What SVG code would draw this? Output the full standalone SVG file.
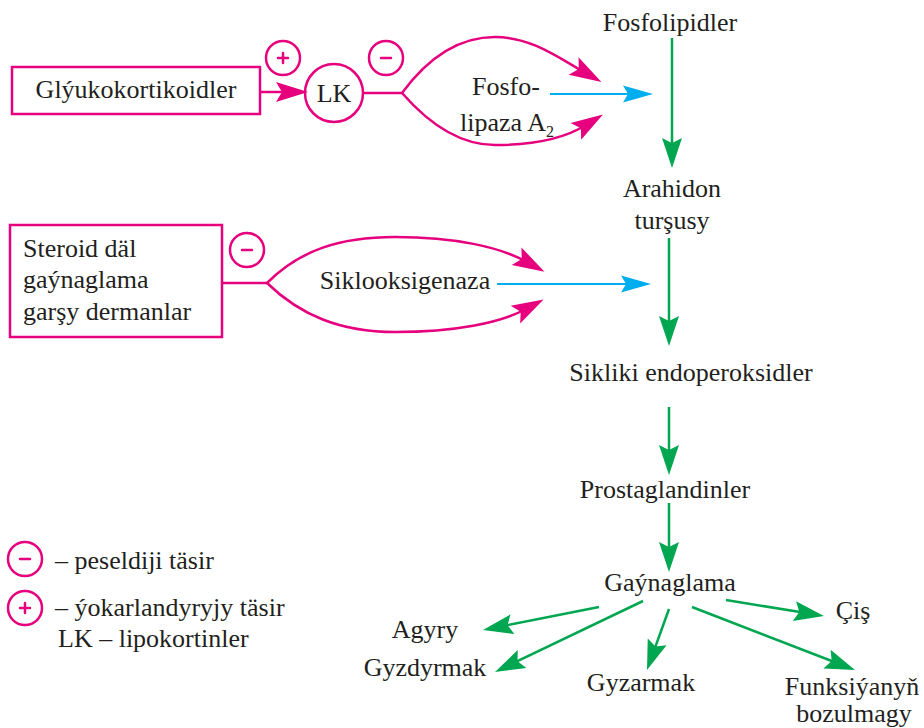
<svg xmlns="http://www.w3.org/2000/svg" xmlns:xlink="http://www.w3.org/1999/xlink" width="924" height="728" viewBox="0 0 924 728" font-family="'Liberation Serif', 'Times New Roman', serif">
<defs>
<path id="hP" d="M0,0 L-32,-10 L-26,0 L-32,10 Z" fill="#E6007E"/>
<path id="hG" d="M0,0 L-30,-10 L-25,0 L-30,10 Z" fill="#00A650"/>
<path id="hB" d="M0,0 L-30,-8.5 L-25,0 L-30,8.5 Z" fill="#00AEEF"/>
</defs>
<g id="glyukokortikoidler">
<rect x="12" y="67" width="248" height="47" fill="none" stroke="#E6007E" stroke-width="2.5"/>
<text font-family="Times New Roman, serif" font-size="26" fill="#231F20" text-anchor="middle" x="136" y="98">Glýukokortikoidler</text>
</g>
<g id="plus-sign" fill="none" stroke="#E6007E" stroke-width="2.5" stroke-linecap="round"><circle cx="283" cy="58" r="17"/><path d="M278,58 H288 M283,53 V63"/></g>
<g id="lk"><circle cx="334" cy="93" r="29" fill="none" stroke="#E6007E" stroke-width="2.5"/><text font-family="Times New Roman, serif" font-size="26" fill="#231F20" text-anchor="middle" x="334" y="102">LK</text></g>
<g id="minus-sign-1" fill="none" stroke="#E6007E" stroke-width="2.5" stroke-linecap="round"><circle cx="386" cy="58" r="17"/><path d="M381,58 H391"/></g>
<g id="fosfolipaza"><text font-family="Times New Roman, serif" font-size="26" fill="#231F20" x="472" y="95">Fosfo-</text><text font-family="Times New Roman, serif" font-size="26" fill="#231F20" x="460" y="131">lipaza A<tspan font-size="16" dy="6">2</tspan></text></g>

<g id="steroid">
<rect x="10" y="225" width="212" height="112" fill="none" stroke="#E6007E" stroke-width="2.5"/>
<text font-family="Times New Roman, serif" font-size="26" fill="#231F20" x="23" y="257">Steroid däl</text>
<text font-family="Times New Roman, serif" font-size="26" fill="#231F20" x="23" y="288">gaýnaglama</text>
<text font-family="Times New Roman, serif" font-size="26" fill="#231F20" x="23" y="320">garşy dermanlar</text>
</g>
<g id="minus-sign-2" fill="none" stroke="#E6007E" stroke-width="2.5" stroke-linecap="round"><circle cx="247" cy="250" r="17"/><path d="M242,250 H252"/></g>
<g id="siklooksigenaza"><text font-family="Times New Roman, serif" font-size="26" fill="#231F20" text-anchor="middle" x="405" y="289">Siklooksigenaza</text></g>

<g id="fosfolipidler"><text font-family="Times New Roman, serif" font-size="26" fill="#231F20" text-anchor="middle" x="670" y="31">Fosfolipidler</text></g>
<g id="arahidon"><text font-family="Times New Roman, serif" font-size="26" fill="#231F20" text-anchor="middle" x="672" y="197">Arahidon</text><text font-family="Times New Roman, serif" font-size="26" fill="#231F20" text-anchor="middle" x="672" y="229">turşusy</text></g>
<g id="sikliki"><text font-family="Times New Roman, serif" font-size="26" fill="#231F20" text-anchor="middle" x="691" y="381">Sikliki endoperoksidler</text></g>
<g id="prostaglandinler"><text font-family="Times New Roman, serif" font-size="26" fill="#231F20" text-anchor="middle" x="665" y="498">Prostaglandinler</text></g>
<g id="gaynaglama"><text font-family="Times New Roman, serif" font-size="26" fill="#231F20" text-anchor="middle" x="670" y="591">Gaýnaglama</text></g>
<g id="agyry"><text font-family="Times New Roman, serif" font-size="26" fill="#231F20" text-anchor="middle" x="425" y="638">Agyry</text></g>
<g id="gyzdyrmak"><text font-family="Times New Roman, serif" font-size="26" fill="#231F20" text-anchor="middle" x="425" y="676">Gyzdyrmak</text></g>
<g id="gyzarmak"><text font-family="Times New Roman, serif" font-size="26" fill="#231F20" text-anchor="middle" x="641" y="691">Gyzarmak</text></g>
<g id="cis"><text font-family="Times New Roman, serif" font-size="26" fill="#231F20" text-anchor="middle" x="853" y="619">Çiş</text></g>
<g id="funksiya"><text font-family="Times New Roman, serif" font-size="26" fill="#231F20" text-anchor="middle" x="852" y="695">Funksiýanyň</text><text font-family="Times New Roman, serif" font-size="26" fill="#231F20" text-anchor="middle" x="854" y="722">bozulmagy</text></g>

<g id="legend">
<g fill="none" stroke="#E6007E" stroke-width="2.5" stroke-linecap="round">
<circle cx="25" cy="559" r="17"/><path d="M20,559 H30"/>
<circle cx="25" cy="608" r="17"/><path d="M20,608 H30 M25,603 V613"/>
</g>
<text font-family="Times New Roman, serif" font-size="26" fill="#231F20" x="55" y="569">– peseldiji täsir</text>
<text font-family="Times New Roman, serif" font-size="26" fill="#231F20" x="55" y="616">– ýokarlandyryjy täsir</text>
<text font-family="Times New Roman, serif" font-size="26" fill="#231F20" x="58" y="647">LK – lipokortinler</text>
</g>
<g id="connectors">
<g fill="none" stroke="#E6007E" stroke-width="2.5">
<path d="M260,92 H288"/>
<path d="M363,93 H402"/>
<path d="M402,93 C430,55 460,37 495,37 C530,37 556,56 584,72"/>
<path d="M402,93 C430,125 460,145 495,145 C530,145 562,140 586,125"/>
<path d="M222,283 H267"/>
<path d="M267,283 C300,250 340,237 395,237 C455,237 500,247 527,262"/>
<path d="M267,283 C300,315 340,332 395,332 C455,332 500,323 526,309"/>
</g>
<use xlink:href="#hP" transform="translate(308,92)"/>
<use xlink:href="#hP" transform="translate(601.4,81.9) rotate(29.7)"/>
<use xlink:href="#hP" transform="translate(603,114.4) rotate(-32)"/>
<use xlink:href="#hP" transform="translate(544.5,271.7) rotate(29.1)"/>
<use xlink:href="#hP" transform="translate(543.6,299.5) rotate(-28.3)"/>
<g fill="none" stroke="#00AEEF" stroke-width="2.2">
<path d="M550,94 H635"/>
<path d="M497,284 H633"/>
</g>
<use xlink:href="#hB" transform="translate(653,94)"/>
<use xlink:href="#hB" transform="translate(651,284)"/>
<g fill="none" stroke="#00A650" stroke-width="2.5">
<path d="M672,38 V150"/>
<path d="M669,238 V328"/>
<path d="M669,407 V457"/>
<path d="M669,503 V554"/>
<path d="M599,607 L500.7,626.5"/>
<path d="M643,601 L511.2,664.2"/>
<path d="M669,609 L653.1,653.1"/>
<path d="M726,600 L806.2,613.1"/>
<path d="M692,607 L838.2,663.5"/>
</g>
<use xlink:href="#hG" transform="translate(672,168) rotate(90)"/>
<use xlink:href="#hG" transform="translate(669,346) rotate(90)"/>
<use xlink:href="#hG" transform="translate(669,475) rotate(90)"/>
<use xlink:href="#hG" transform="translate(669,572) rotate(90)"/>
<use xlink:href="#hG" transform="translate(483,630) rotate(168.8)"/>
<use xlink:href="#hG" transform="translate(495,672) rotate(154.4)"/>
<use xlink:href="#hG" transform="translate(647,670) rotate(109.8)"/>
<use xlink:href="#hG" transform="translate(824,616) rotate(9.3)"/>
<use xlink:href="#hG" transform="translate(855,670) rotate(21.1)"/>
</g>
</svg>
